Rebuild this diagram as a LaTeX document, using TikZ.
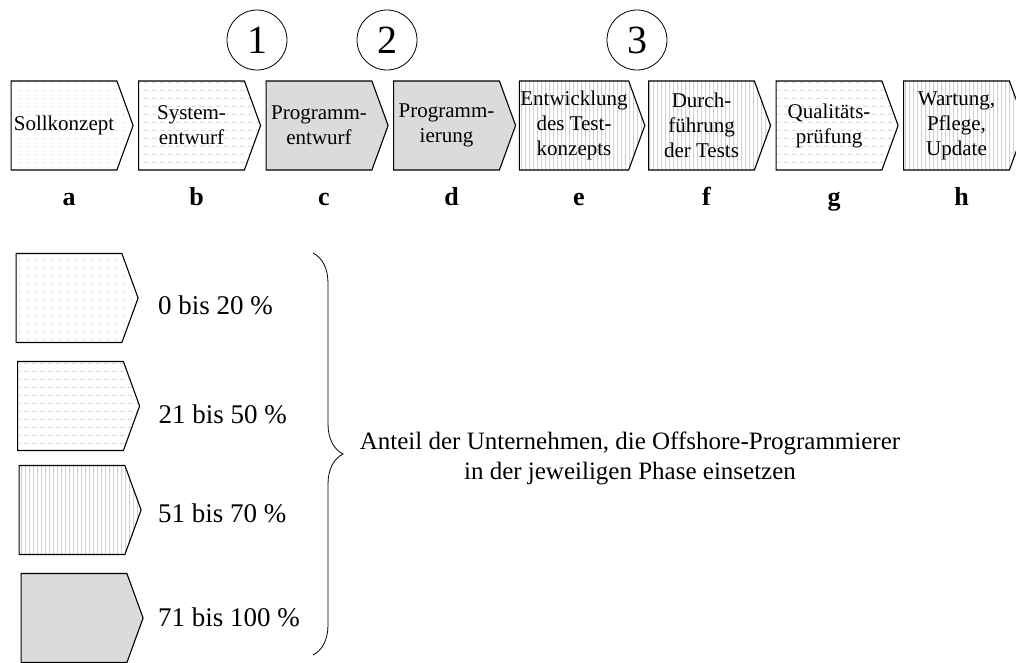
\documentclass[tikz,border=0pt]{standalone}
\usepackage{fontspec}
\setmainfont{Liberation Serif}
\usetikzlibrary{positioning, shapes.symbols, patterns.meta, decorations.pathreplacing}

\tikzdeclarepattern{
  name=softdots, type=uncolored,
  bounding box={(0,0) and (8pt,8pt)}, tile size={(8pt,8pt)},
  code={\fill (4pt,4pt) circle (0.7pt);}
}
\tikzdeclarepattern{
  name=softdashes, type=uncolored,
  bounding box={(0,0) and (8pt,8pt)}, tile size={(8pt,8pt)},
  code={\fill (0pt,3.5pt) rectangle (5pt,4.5pt);}
}
\tikzdeclarepattern{
  name=softlines, type=uncolored,
  bounding box={(0,0) and (4pt,4pt)}, tile size={(4pt,4pt)},
  code={\fill (1.5pt,-1pt) rectangle (2.5pt,5pt);}
}

\begin{document}
\begin{tikzpicture}[x=1pt,y=1pt,node distance=127.5pt,
  phase/.style={signal,signal to=east,signal pointer angle=140,draw,line width=1.1pt,
    minimum width=122pt,minimum height=89pt,inner sep=1pt,align=center,
    font=\fontsize{21}{25}\selectfont},
  low/.style={pattern={softdots},pattern color=black!22},
  mid/.style={pattern={softdashes},pattern color=black!14},
  high/.style={pattern={softlines},pattern color=black!18},
  top/.style={fill=black!14},
  letter/.style={inner sep=0pt,text height=18pt,text depth=0pt,xshift=5pt,
    font=\fontsize{26}{30}\selectfont\bfseries},
  num/.style={circle,draw,thick,minimum size=60pt,inner sep=0pt,font=\fontsize{40}{40}\selectfont},
  share/.style={font=\fontsize{27}{30}\selectfont}]
  \useasboundingbox (0,0) rectangle (1016,-662);
  % phases
  \node[phase,low] (a) at (64,-125.5) {Sollkonzept};
  \node[phase,mid] (b) [right of=a] {System-\\entwurf};
  \node[phase,top] (c) [right of=b] {Programm-\\entwurf};
  \node[phase,top] (d) [right of=c] {Programm-\\ierung};
  \node[phase,high] (e) [right of=d] {Entwicklung\\des Test-\\konzepts};
  \node[phase,high] (f) [right of=e] {Durch-\\führung\\der Tests};
  \node[phase,mid] (g) [right of=f] {Qualitäts-\\prüfung};
  \node[phase,high] (h) [right of=g] {Wartung,\\Pflege,\\Update};
  \foreach \p in {a,b,c,d,e,f,g,h}
    \node[letter] (l\p) [below=17pt of \p] {\p};
  % markers
  \node[num] (n1) at (257,-40) {1};
  \node[num] (n2) at (387,-40) {2};
  \node[num] (n3) at (637,-40) {3};
  % legend
  \node[phase,low] (k1) at (69,-298) {};
  \node[phase,mid] (k2) at (70.5,-406) {};
  \node[phase,high] (k3) at (72,-510) {};
  \node[phase,top] (k4) at (74,-618) {};
  \node[share,right=16pt of k1,yshift=-7pt] (t1) {0 bis 20 \%};
  \node[share,right=15pt of k2,yshift=-8pt] (t2) {21 bis 50 \%};
  \node[share,right=13pt of k3,yshift=-3pt] (t3) {51 bis 70 \%};
  \node[share,right=11pt of k4,yshift=1pt] (t4) {71 bis 100 \%};
  \coordinate (bt) at (313,-253);
  \coordinate (bb) at (313,-655);
  \draw[thick,decorate,decoration={brace,amplitude=30pt}] (bt) -- (bb);
  \node[align=center,font=\fontsize{25}{30}\selectfont] (note) at (630,-458)
    {Anteil der Unternehmen, die Offshore-Programmierer\\in der jeweiligen Phase einsetzen};
\end{tikzpicture}
\end{document}
